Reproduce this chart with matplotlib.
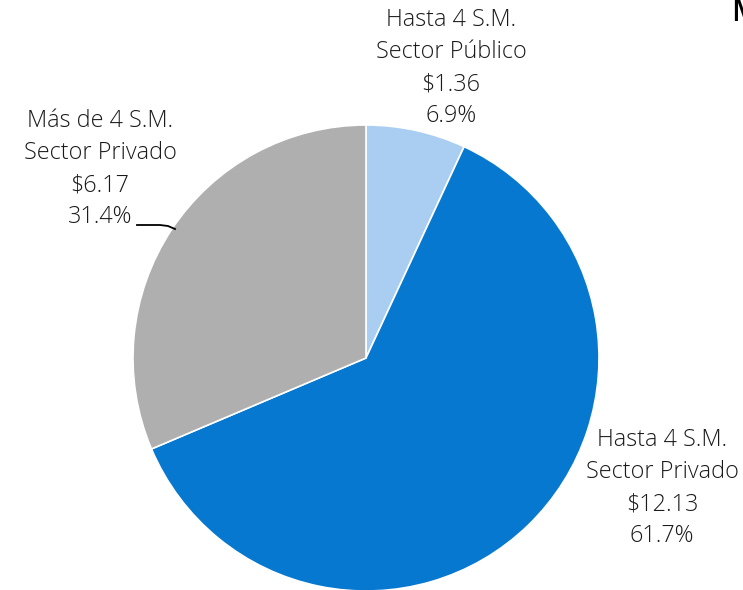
import matplotlib.pyplot as plt
import numpy as np

categorias = ["Hasta 4 S.M.\nSector Público",
              "Hasta 4 S.M.\nSector Privado",
              "Más de 4 S.M.\nSector Privado"]
montos = [1.36, 12.13, 6.17]
porcentajes = [6.9, 61.7, 31.4]
colores = ["#AACEF2", "#0778CF", "#AFAFAF"]

# posiciones de las etiquetas (pixeles, origen abajo-izquierda)
pos_etiquetas = [(451, 522), (662, 102), (100, 421)]

plt.rcParams['font.family'] = ['Open Sans', 'DejaVu Sans']

fig = plt.figure(figsize=(7.43, 5.9), dpi=100)
ax = fig.add_axes([0, 0, 1, 1])
ax.set_xlim(0, 743)
ax.set_ylim(0, 590)
ax.set_aspect('equal')
ax.axis('off')

ax.pie(montos, colors=colores, startangle=90, counterclock=False,
       center=(366, 232), radius=233,
       wedgeprops=dict(edgecolor='white', linewidth=1.2))
ax.set_xlim(0, 743)
ax.set_ylim(0, 590)

for cat, m, p, (x, y) in zip(categorias, montos, porcentajes, pos_etiquetas):
    ax.text(x, y, "{}\n${:.2f}\n{:.1f}%".format(cat, m, p),
            ha='center', va='center', fontsize=16.8, fontweight='light',
            color='#1a1a1a', linespacing=1.45)

# linea guia de la etiqueta gris
ax.plot([137, 160, 168, 175], [365, 365, 364, 361], color='black', lw=1.3)

# texto cortado en la esquina
ax.text(731, 592, "M", ha='left', va='top', fontsize=22, color='black',
        fontweight='semibold')

fig.savefig("out.png", dpi=100)
